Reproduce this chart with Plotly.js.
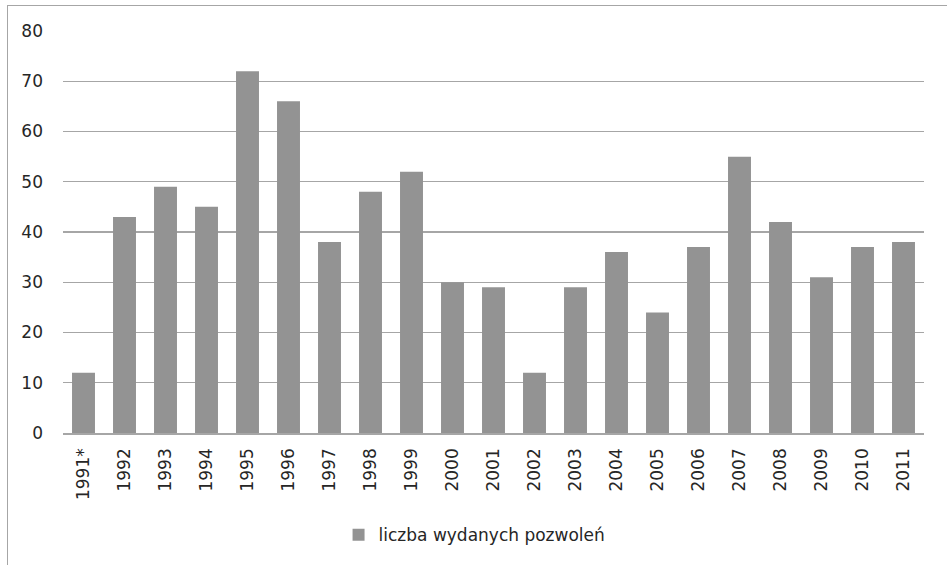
<!DOCTYPE html>
<html>
<head>
<meta charset="utf-8">
<script src="https://cdn.plot.ly/plotly-3.0.1.min.js"></script>
<style>
html,body{margin:0;padding:0;background:#fff;}
#chart{width:947px;height:565px;position:absolute;left:0;top:0;}
#frame{position:absolute;left:7px;top:5px;width:960px;height:600px;border-left:1.5px solid #a6a6a6;border-top:1.5px solid #a6a6a6;pointer-events:none;}
</style>
</head>
<body>
<div id="chart"></div>
<div id="frame"></div>
<script>
var categories = ["1991*","1992","1993","1994","1995","1996","1997","1998","1999","2000","2001","2002","2003","2004","2005","2006","2007","2008","2009","2010","2011"];
var permits = [12,43,49,45,72,66,38,48,52,30,29,12,29,36,24,37,55,42,31,37,38];
var seriesName = "liczba wydanych pozwoleń";
var yTicks = [0,10,20,30,40,50,60,70,80];

var trace = {
  type: 'bar',
  x: categories,
  y: permits,
  name: seriesName,
  marker: {color: '#939393', line: {width: 0}},
  showlegend: true
};

var layout = {
  width: 947,
  height: 565,
  margin: {l: 63, r: 23, t: 31, b: 132, pad: 0},
  paper_bgcolor: 'rgba(0,0,0,0)',
  plot_bgcolor: '#fff',
  font: {family: 'DejaVu Sans, sans-serif', size: 17, color: '#262626'},
  bargap: 0.44,
  showlegend: true,
  legend: {
    orientation: 'h', x: 0.478, xanchor: 'center', y: -0.254, yanchor: 'middle',
    font: {family: 'DejaVu Sans, sans-serif', size: 17, color: '#262626'},
    itemwidth: 30, itemclick: false
  },
  xaxis: {
    type: 'category',
    tickangle: -90,
    showgrid: false,
    showline: true,
    linecolor: '#a6a6a6',
    linewidth: 1.5,
    ticks: '',
    ticklabelstandoff: 7,
    tickfont: {family: 'DejaVu Sans, sans-serif', size: 17, color: '#262626'},
    fixedrange: true
  },
  yaxis: {
    range: [0, 80],
    tickvals: yTicks,
    ticktext: yTicks.map(String),
    showgrid: true,
    gridcolor: '#a6a6a6',
    gridwidth: 1.3,
    zeroline: false,
    showline: false,
    ticks: '',
    ticklabelstandoff: 19,
    tickfont: {family: 'DejaVu Sans, sans-serif', size: 17, color: '#262626'},
    fixedrange: true
  }
};

Plotly.newPlot('chart', [trace], layout, {displayModeBar: false, staticPlot: true});
</script>
</body>
</html>
